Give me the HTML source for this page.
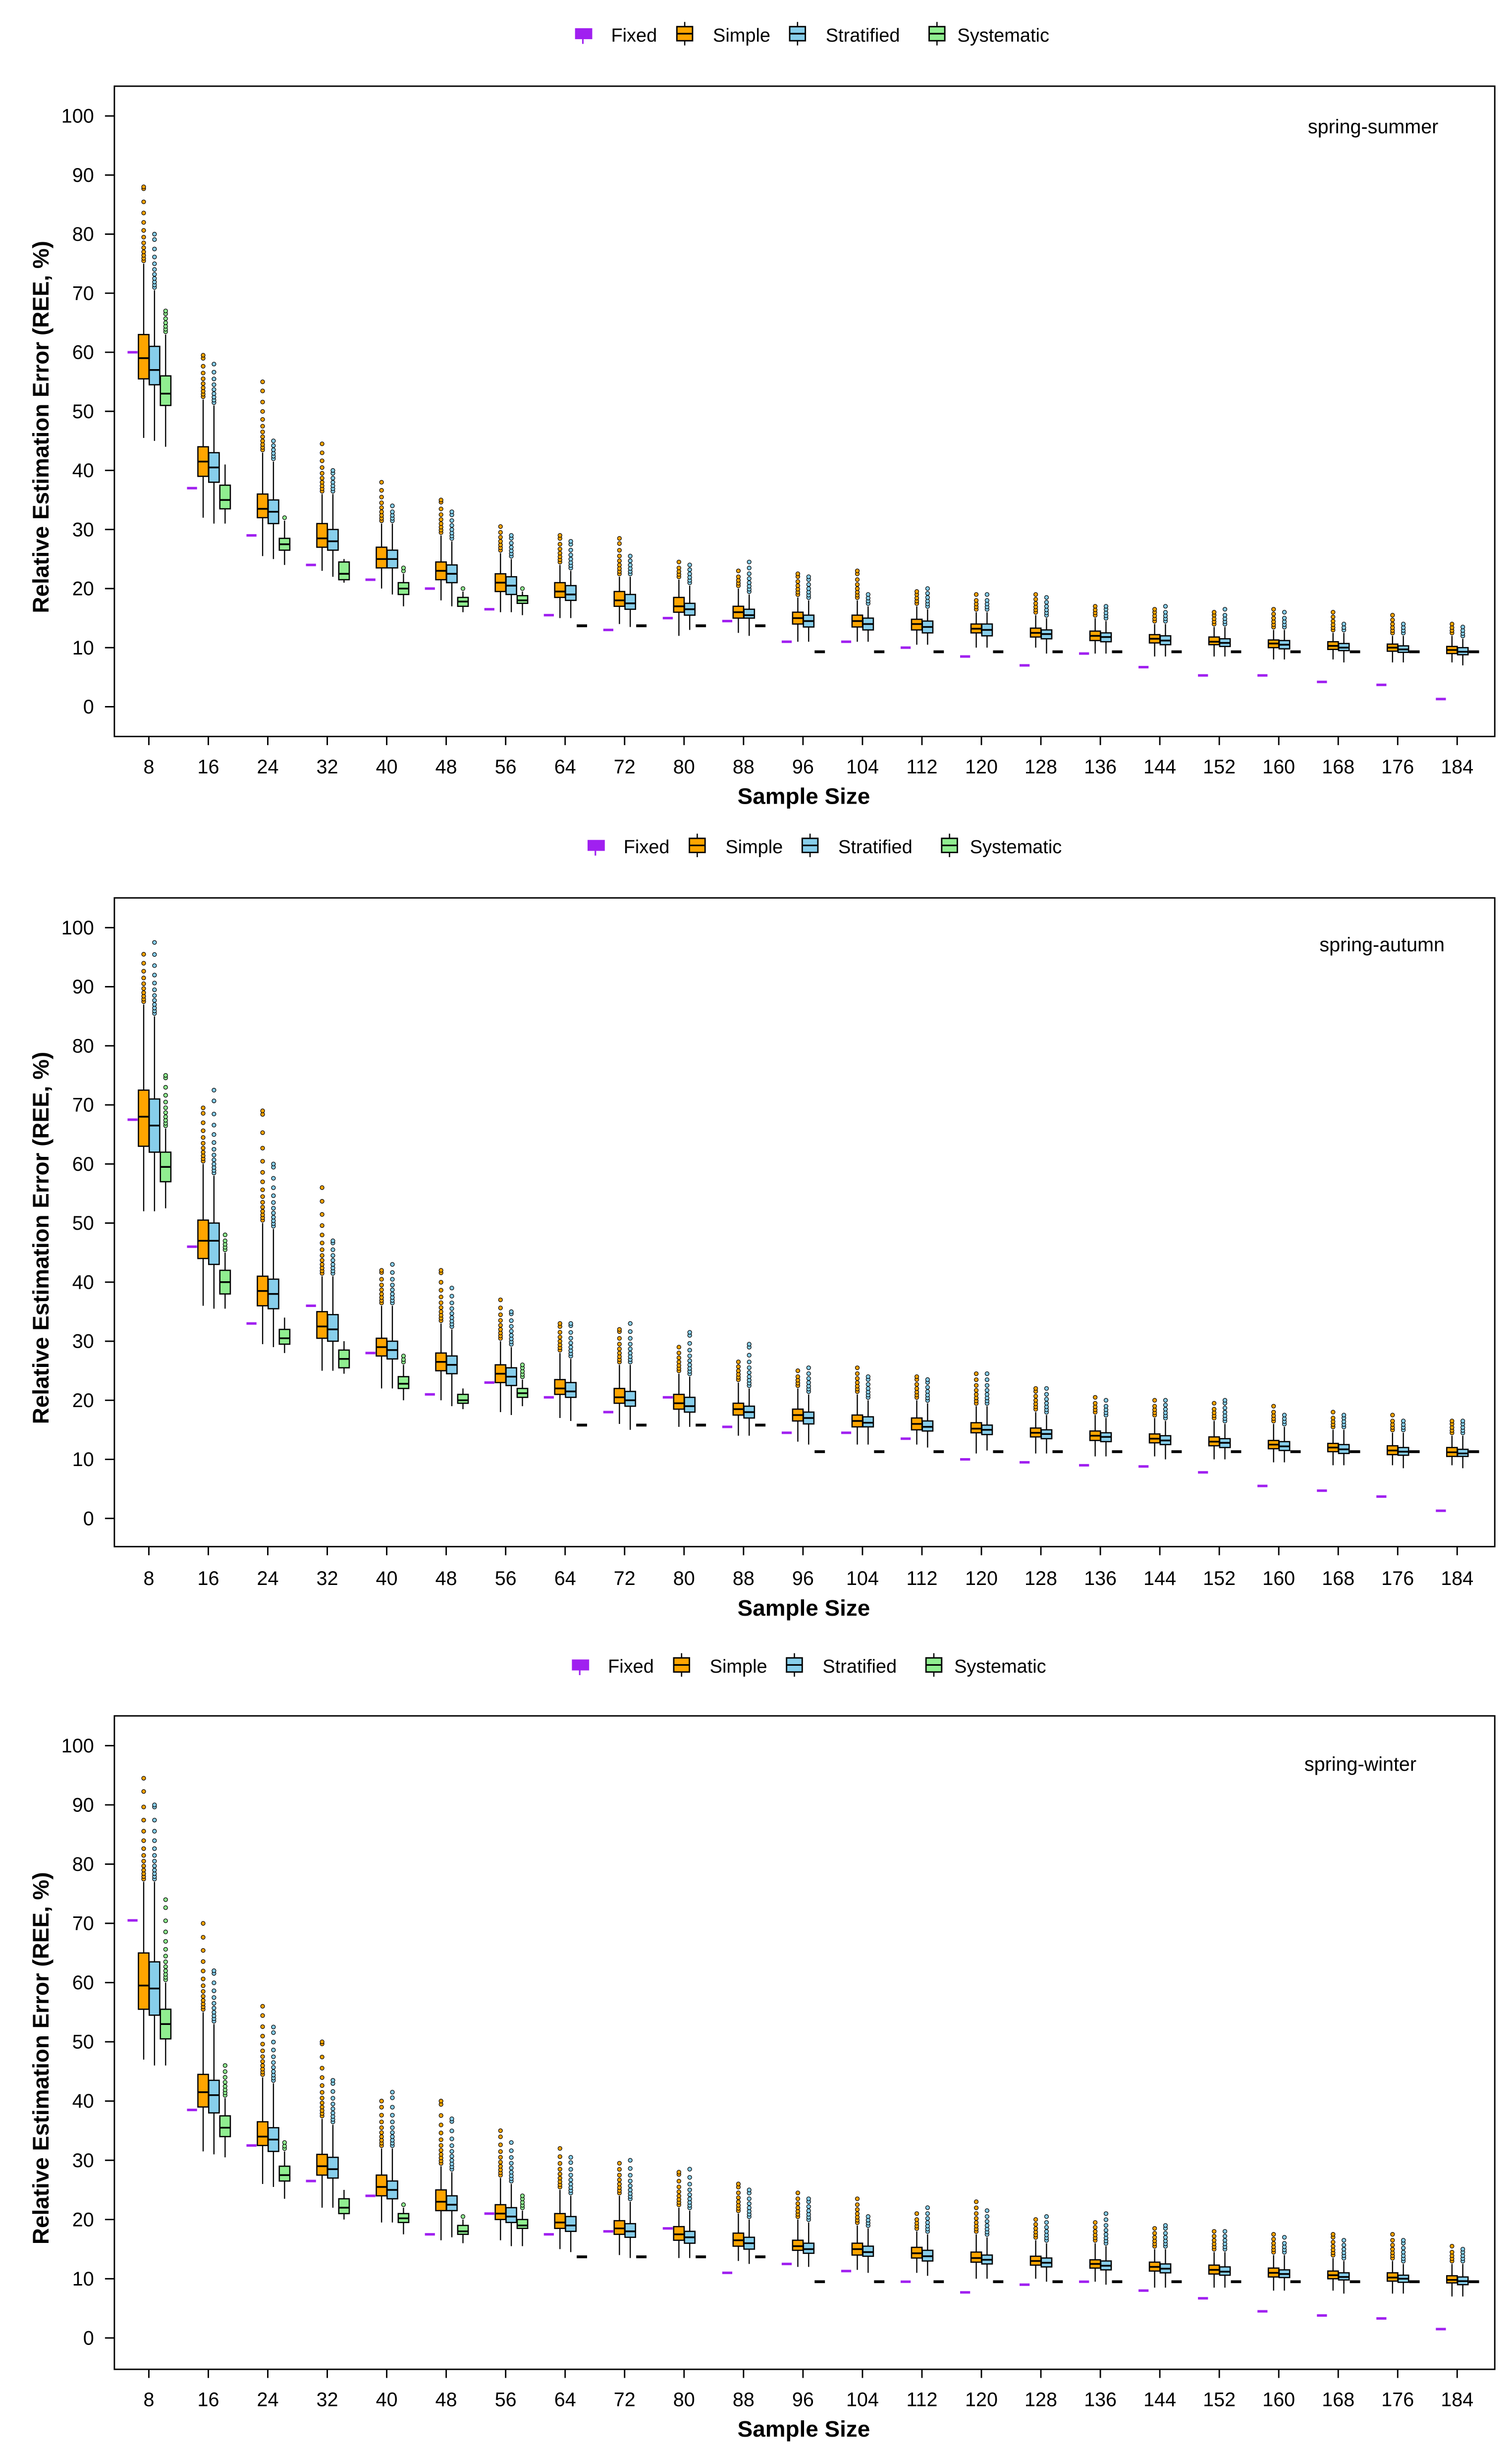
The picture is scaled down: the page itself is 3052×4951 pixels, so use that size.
<!DOCTYPE html>
<html><head><meta charset="utf-8">
<style>
html,body{margin:0;padding:0;background:#fff;}
svg{display:block;}
text{font-family:"Liberation Sans",Arial,sans-serif;}
</style></head>
<body>
<svg id="chart" width="3052" height="4951" viewBox="0 0 965 1565.4" preserveAspectRatio="none" xmlns="http://www.w3.org/2000/svg"></svg>
<script>
const categories = [8,16,24,32,40,48,56,64,72,80,88,96,104,112,120,128,136,144,152,160,168,176,184];
const yTicks = [0,10,20,30,40,50,60,70,80,90,100];
const seriesNames = ["Fixed","Simple","Stratified","Systematic"];
const seriesColors = ["#a020f0","#ffa500","#87ceeb","#90ee90"];
const panelTitles = ["spring-summer","spring-autumn","spring-winter"];

// each box: [q1, median, q3, whiskerLow, whiskerHigh, maxOutlier]
const fixedSS = [60,37,29,24,21.5,20,16.5,15.5,13,15,14.5,11,11,10,8.5,7,9,6.7,5.3,5.3,4.2,3.7,1.3];
const simpleSS = [[55.5,59,63,45.5,75,88],[39,41.5,44,32,52,59.5],[32,33.5,36,25.5,43,55],[27,28.5,31,23,36,44.5],[23.5,25,27,20,31,38],[21.5,23,24.5,18,29,35],[19.5,21,22.5,16,26,30.5],[18.5,19.5,21,15,24,29],[17,18,19.5,14,22,28.5],[16,17,18.5,12,21.5,24.5],[15,16,17,12.5,20,23],[14,15,16,11,18.5,22.5],[13.5,14.5,15.5,11,18,23],[13,14,14.8,10.5,17,19.5],[12.5,13.2,14,10,16,19],[11.8,12.5,13.3,10,15.5,19],[11.2,12,12.8,9,15,17],[10.8,11.5,12.2,8.5,14,16.5],[10.5,11,11.8,8.5,13.5,16],[10,10.7,11.3,8,13,16.5],[9.7,10.3,11,8,12.5,16],[9.4,10,10.6,7.5,12,15.5],[9,9.6,10.2,7.5,12,14]];
const stratSS = [[54.5,57,61,45,70.5,80],[38,40.5,43,31,51,58],[31,33,35,25,41.5,45],[26.5,28,30,22,36,40],[23.5,25,26.5,19,31,34],[21,22.5,24,17,28,33],[19,20.5,22,16,25,29],[18,19,20.5,15,23,28],[16.5,17.5,19,13.5,22,25.5],[15.5,16.5,17.5,13,20.5,24],[15,15.5,16.5,12,19,24.5],[13.5,14.5,15.5,11,18,22],[13,14,15,11,17,19],[12.5,13.5,14.5,10.5,16.5,20],[12,13,14,10,16,19],[11.5,12.3,13,9,15,18.5],[11,11.8,12.5,9,14.5,17],[10.5,11.2,12,8.5,14,17],[10.2,10.8,11.5,8.5,13.5,16.5],[9.8,10.5,11.2,8,13,16],[9.5,10,10.7,7.5,12.5,14],[9.2,9.7,10.3,7.5,12,14],[8.8,9.3,10,7,11.5,13.5]];
const systSS = [[51,53,56,44,63,67],[33.5,35,37.5,31,41,41],[26.5,27.5,28.5,24,31.5,32],[21.5,22.5,24.5,21,25,25],[19,20,21,17,22.5,23.5],[17,17.8,18.5,16,19.5,20],[17.5,18,18.8,15.5,19.5,20],[13.7,13.7,13.7,13.7,13.7,13.7],[13.7,13.7,13.7,13.7,13.7,13.7],[13.7,13.7,13.7,13.7,13.7,13.7],[13.7,13.7,13.7,13.7,13.7,13.7],[9.3,9.3,9.3,9.3,9.3,9.3],[9.3,9.3,9.3,9.3,9.3,9.3],[9.3,9.3,9.3,9.3,9.3,9.3],[9.3,9.3,9.3,9.3,9.3,9.3],[9.3,9.3,9.3,9.3,9.3,9.3],[9.3,9.3,9.3,9.3,9.3,9.3],[9.3,9.3,9.3,9.3,9.3,9.3],[9.3,9.3,9.3,9.3,9.3,9.3],[9.3,9.3,9.3,9.3,9.3,9.3],[9.3,9.3,9.3,9.3,9.3,9.3],[9.3,9.3,9.3,9.3,9.3,9.3],[9.3,9.3,9.3,9.3,9.3,9.3]];

const fixedSA = [67.5,46,33,36,28,21,23,20.5,18,20.5,15.5,14.5,14.5,13.5,10,9.5,9,8.8,7.8,5.5,4.7,3.7,1.3];
const simpleSA = [[63,68,72.5,52,87,95.5],[44,47,50.5,36,60,69.5],[36,38.5,41,29.5,50,69],[30.5,32.5,35,25,41,56],[27.5,29,30.5,22,36,42],[25,26.5,28,20,33,42],[23,24.5,26,18,30,37],[21,22,23.5,17,28,33],[19.5,20.5,22,16,26,32],[18.5,19.5,21,15.5,24.5,29],[17.5,18.5,19.5,14,23,26.5],[16.5,17.5,18.5,13,22,25],[15.5,16.5,17.5,12.5,21,25.5],[15,16,17,12.5,20,24],[14.5,15.2,16.2,11,19,24.5],[13.8,14.5,15.3,11,18,22],[13.2,14,14.8,10.5,17.5,20.5],[12.8,13.5,14.3,10.5,17,20],[12.3,13,13.8,10,16.5,19.5],[11.8,12.5,13.2,9.5,16,19],[11.3,12,12.7,9,15,18],[10.8,11.5,12.3,9,14.5,17.5],[10.5,11.2,12,9,14,16.5]];
const stratSA = [[62,66.5,71,52,85,97.5],[43,47,50,35.5,58,72.5],[35.5,38,40.5,29,49,60],[30,32,34.5,25,41,47],[27,28.5,30,22,36,43],[24.5,26,27.5,19,32,39],[22.5,24,25.5,17.5,29,35],[20.5,21.5,23,16.5,27,33],[19,20,21.5,15,26,33],[18,19,20.5,15.5,24,31.5],[17,18,19,14,22,29.5],[16,17,18,12.5,21,25.5],[15.5,16.2,17.2,12.5,20,24],[14.8,15.5,16.5,12,19.5,23.5],[14.2,15,15.8,11.5,19,24.5],[13.5,14.3,15,11,17.5,22],[13,13.8,14.5,10.5,17,20],[12.5,13.2,14,10,16.5,20],[12,12.8,13.5,10,16,20],[11.5,12.2,13,9.5,15.5,17.5],[11,11.7,12.5,9,15,17.5],[10.7,11.3,12,8.5,14.5,16.5],[10.5,11,11.7,8.5,14,16.5]];
const systSA = [[57,59.5,62,52.5,66,75],[38,40,42,35.5,45,48],[29.5,30.5,32,28,34,34],[25.5,27,28.5,24.5,30,30],[22,22.8,24,20,26,27.5],[19.5,20,21,18.5,22,22],[20.5,21.2,22,19,23.5,26],[15.8,15.8,15.8,15.8,15.8,15.8],[15.8,15.8,15.8,15.8,15.8,15.8],[15.8,15.8,15.8,15.8,15.8,15.8],[15.8,15.8,15.8,15.8,15.8,15.8],[11.3,11.3,11.3,11.3,11.3,11.3],[11.3,11.3,11.3,11.3,11.3,11.3],[11.3,11.3,11.3,11.3,11.3,11.3],[11.3,11.3,11.3,11.3,11.3,11.3],[11.3,11.3,11.3,11.3,11.3,11.3],[11.3,11.3,11.3,11.3,11.3,11.3],[11.3,11.3,11.3,11.3,11.3,11.3],[11.3,11.3,11.3,11.3,11.3,11.3],[11.3,11.3,11.3,11.3,11.3,11.3],[11.3,11.3,11.3,11.3,11.3,11.3],[11.3,11.3,11.3,11.3,11.3,11.3],[11.3,11.3,11.3,11.3,11.3,11.3]];

const fixedSW = [70.5,38.5,32.5,26.5,24,17.5,21,17.5,18,18.5,11,12.5,11.3,9.5,7.7,9,9.5,8,6.7,4.5,3.8,3.3,1.5];
const simpleSW = [[55.5,59.5,65,47,77,94.5],[39,41.5,44.5,31.5,55,70],[32.5,34,36.5,26,44,56],[27.5,29,31,22,37,50],[24,25.5,27.5,19.5,32,40],[21.5,23,25,16.5,29,40],[20,21,22.5,16.5,27,35],[18.5,19.5,21,15,25,32],[17.5,18.5,19.8,14,24,29.5],[16.5,17.5,18.8,13.5,22,28],[15.5,16.5,17.7,13,21,26],[14.8,15.5,16.5,12,20,24.5],[14,15,16,11.5,19,23.5],[13.5,14.3,15.3,11,18,21],[12.8,13.5,14.5,10,17.5,23],[12.3,13,13.8,10,16.5,20],[11.8,12.5,13.2,9.5,16,19.5],[11.3,12,12.8,8.5,15,18.5],[10.8,11.5,12.3,8.5,14.5,18],[10.3,11,11.8,8,14,17.5],[10,10.6,11.3,8,13.5,17.5],[9.6,10.2,11,7.5,13,17.5],[9.3,9.8,10.5,7,12.5,15.5]];
const stratSW = [[54.5,59,63.5,46,77,90],[38,41,43.5,31,53,62],[31.5,33.5,35.5,25.5,43,52.5],[27,28.5,30.5,22,36,43.5],[23.5,25,26.5,19.5,32,41.5],[21.5,22.5,24,17,28,37],[19.5,20.5,22,15.5,26,33],[18,19,20.5,14.5,24,30.5],[17,18,19.3,13.5,23,30],[16,17,18,13.5,21.5,28.5],[15,16,17,12.5,20,25],[14.3,15,16,12,19.5,23.5],[13.8,14.5,15.5,11,18.5,20.5],[13,13.8,14.8,10.5,17.5,22],[12.5,13.2,14,10,17,21.5],[12,12.7,13.5,9.5,16,20.5],[11.5,12.2,13,9,15.5,21],[11,11.7,12.5,8.5,15,19],[10.6,11.2,12,8.5,14.5,18],[10.2,10.8,11.5,8,14,17],[9.8,10.3,11,7.5,13,16.5],[9.4,10,10.6,7.5,12.5,16.5],[9,9.6,10.3,7,12.5,15]];
const systSW = [[50.5,53,55.5,46,60,74],[34,35.5,37.5,30.5,40.5,46],[26.5,27.5,29,23.5,31.5,33],[21,22,23.5,20,25,25],[19.5,20.2,21,17.5,22,22.5],[17.5,18,19,16,20,20.5],[18.5,19,20,15.5,21.5,24],[13.7,13.7,13.7,13.7,13.7,13.7],[13.7,13.7,13.7,13.7,13.7,13.7],[13.7,13.7,13.7,13.7,13.7,13.7],[13.7,13.7,13.7,13.7,13.7,13.7],[9.5,9.5,9.5,9.5,9.5,9.5],[9.5,9.5,9.5,9.5,9.5,9.5],[9.5,9.5,9.5,9.5,9.5,9.5],[9.5,9.5,9.5,9.5,9.5,9.5],[9.5,9.5,9.5,9.5,9.5,9.5],[9.5,9.5,9.5,9.5,9.5,9.5],[9.5,9.5,9.5,9.5,9.5,9.5],[9.5,9.5,9.5,9.5,9.5,9.5],[9.5,9.5,9.5,9.5,9.5,9.5],[9.5,9.5,9.5,9.5,9.5,9.5],[9.5,9.5,9.5,9.5,9.5,9.5],[9.5,9.5,9.5,9.5,9.5,9.5]];

const NS = "http://www.w3.org/2000/svg";
const svg = document.getElementById("chart");
function mk(tag, parent, attrs) {
  const e = document.createElementNS(NS, tag);
  for (const k in attrs) e.setAttribute(k, attrs[k]);
  parent.appendChild(e);
  return e;
}

const panels = [
  {fixed: fixedSS, simple: simpleSS, strat: stratSS, syst: systSS, legendY: 22, top: 55, bottom: 470, y100: 74, y0: 451, tickY: 489, titleY: 508, labelX: 918, labelY: 85},
  {fixed: fixedSA, simple: simpleSA, strat: stratSA, syst: systSA, legendY: 540, top: 573, bottom: 987, y100: 592, y0: 969, tickY: 1007, titleY: 1026, labelX: 922, labelY: 607},
  {fixed: fixedSW, simple: simpleSW, strat: stratSW, syst: systSW, legendY: 1063, top: 1095, bottom: 1512, y100: 1114, y0: 1492, tickY: 1531, titleY: 1550, labelX: 904, labelY: 1130}
];
const legendX = [[372, 366], [437, 455], [509, 527], [598, 611]];
const legendShift = [0, 8, -2];
const frameL = 73, frameR = 954;
const xFirst = 95, xLast = 930;
function xScale(i) { return xFirst + (xLast - xFirst) * i / (categories.length - 1); }
const offsets = [-10.4, -3.3, 3.6, 10.7];
const boxW = 6.7;

panels.forEach((p, pi) => {
  const g = mk("g", svg, {});
  
  
  const yScale = v => p.y0 - (p.y0 - p.y100) * v / 100;

  const lg = mk("g", g, {});
  
  
  seriesNames.forEach((nm, si) => {
    const ent = mk("g", lg, {});
    
    
    const bx = legendX[si][0] + legendShift[pi];
    if (si === 0) {
      mk("rect", ent, {x: bx - 5, y: p.legendY - 4, width: 11, height: 7, fill: seriesColors[0]});
      mk("line", ent, {x1: bx, x2: bx, y1: p.legendY + 3, y2: p.legendY + 6, stroke: seriesColors[0], "stroke-width": 1});
    } else {
      mk("line", ent, {x1: bx, x2: bx, y1: p.legendY - 8, y2: p.legendY + 7, stroke: "#000", "stroke-width": 0.8});
      mk("rect", ent, {x: bx - 5, y: p.legendY - 5, width: 10, height: 9, fill: seriesColors[si], stroke: "#000", "stroke-width": 0.9});
      mk("line", ent, {x1: bx - 5, x2: bx + 5, y1: p.legendY - 0.5, y2: p.legendY - 0.5, stroke: "#000", "stroke-width": 1});
    }
    const t = mk("text", ent, {x: (si === 0 ? 390 : legendX[si][1]) + legendShift[pi], y: p.legendY + 4.5, "font-size": 12});
    t.textContent = nm;
  });

  const fr = mk("rect", g, {x: frameL, y: p.top, width: frameR - frameL, height: p.bottom - p.top, fill: "none", stroke: "#000", "stroke-width": 0.9});
  
  

  const ya = mk("g", g, {});
  
  
  yTicks.forEach(v => {
    const y = yScale(v);
    mk("line", ya, {x1: frameL - 6, x2: frameL, y1: y, y2: y, stroke: "#000", "stroke-width": 0.9});
    const t = mk("text", ya, {x: frameL - 13, y: y + 4.3, "font-size": 12.5, "text-anchor": "end"});
    t.textContent = v;
  });
  const yt = mk("text", ya, {x: 0, y: 0, "font-size": 14.5, "font-weight": "bold", "text-anchor": "middle", transform: `translate(31,${(p.top + p.bottom)/2 + 10}) rotate(-90)`});
  
  
  yt.textContent = "Relative Estimation Error (REE, %)";

  const xa = mk("g", g, {});
  
  
  categories.forEach((c, i) => {
    const x = xScale(i);
    mk("line", xa, {x1: x, x2: x, y1: p.bottom, y2: p.bottom + 5.5, stroke: "#000", "stroke-width": 0.9});
    const t = mk("text", xa, {x: x, y: p.tickY + 4.5, "font-size": 12.5, "text-anchor": "middle"});
    t.textContent = c;
  });
  const xt = mk("text", xa, {x: 513, y: p.titleY + 5, "font-size": 14.5, "font-weight": "bold", "text-anchor": "middle"});
  
  
  xt.textContent = "Sample Size";

  const pl = mk("text", g, {x: p.labelX, y: p.labelY, "font-size": 12.5, "text-anchor": "end"});
  
  
  pl.textContent = panelTitles[pi];

  const marks = mk("g", g, {});
  
  
  categories.forEach((c, i) => {
    const cx = xScale(i);
    const fd = mk("rect", marks, {x: cx + offsets[0] - 3.2, y: yScale(p.fixed[i]) - 0.8, width: 6.4, height: 1.6, fill: seriesColors[0]});
    
    
    [p.simple, p.strat, p.syst].forEach((arr, k) => {
      const si = k + 1;
      const [q1, med, q3, lo, hi, mx] = arr[i];
      const bx = cx + offsets[si];
      const bg = mk("g", marks, {});
      
      
      if (hi > lo) {
        mk("line", bg, {x1: bx, x2: bx, y1: yScale(hi), y2: yScale(lo), stroke: "#000", "stroke-width": 0.75});
      }
      // outliers: dense near whisker, sparser toward the max
      if (mx > hi + 0.3) {
        const yTop = yScale(mx);
        let yy = yScale(hi) - 1.8;
        let step = 1.6;
        const pts = [];
        while (yy > yTop + 1.2) { pts.push(yy); yy -= step; step *= 1.18; }
        pts.push(yTop);
        pts.forEach(py => {
          mk("circle", bg, {cx: bx, cy: py, r: 1.25, fill: seriesColors[si], stroke: "#000", "stroke-width": 0.4});
        });
      }
      const yq3 = yScale(q3), yq1 = yScale(q1);
      const h = yq1 - yq3;
      if (h < 0.6) {
        mk("rect", bg, {x: bx - 3.3, y: yScale(med) - 0.9, width: 6.6, height: 1.8, fill: "#000"});
      } else {
        mk("rect", bg, {x: bx - boxW/2, y: yq3, width: boxW, height: h, fill: seriesColors[si], stroke: "#000", "stroke-width": 0.8});
        mk("line", bg, {x1: bx - boxW/2, x2: bx + boxW/2, y1: yScale(med), y2: yScale(med), stroke: "#000", "stroke-width": 1.1});
      }
    });
  });
});
</script>
</body></html>
